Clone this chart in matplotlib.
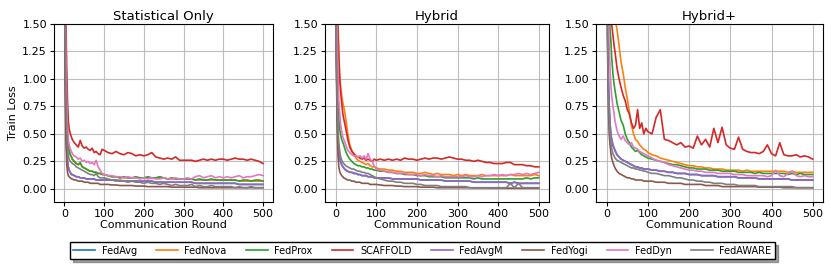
import matplotlib
matplotlib.use("Agg")
import matplotlib.pyplot as plt

rounds = [0, 2, 4, 6, 8, 10, 12, 15, 18, 20, 25, 30, 35, 40, 45, 50, 55, 60, 65, 70,
          75, 80, 85, 90, 95, 100] + list(range(110, 501, 10))

methods = ["FedAvg", "FedNova", "FedProx", "SCAFFOLD", "FedAvgM", "FedYogi", "FedDyn", "FedAWARE"]
colors = ["#1f77b4", "#ff7f0e", "#2ca02c", "#d62728", "#9467bd", "#8c564b", "#e377c2", "#7f7f7f"]
titles = ["Statistical Only", "Hybrid", "Hybrid+"]

# ---------------- Statistical Only ----------------
s_scaffold = [2.4, 1.9, 1.5, 1.1, 0.8, 0.62, 0.55, 0.5, 0.47, 0.45, 0.42, 0.4, 0.38, 0.44, 0.39, 0.37, 0.38, 0.36, 0.35, 0.37, 0.33, 0.34, 0.32, 0.31, 0.36, 0.35,
              0.33, 0.32, 0.34, 0.32, 0.31, 0.33, 0.32, 0.30, 0.31, 0.30,
              0.31, 0.33, 0.29, 0.28, 0.27, 0.28, 0.27, 0.29, 0.26, 0.26,
              0.26, 0.26, 0.25, 0.26, 0.27, 0.26, 0.27, 0.26, 0.27, 0.27,
              0.26, 0.27, 0.28, 0.27, 0.27, 0.26, 0.27, 0.26, 0.25, 0.23]
s_feddyn = [2.4, 1.7, 1.2, 0.8, 0.55, 0.45, 0.4, 0.36, 0.34, 0.32, 0.3, 0.29, 0.27, 0.28, 0.25, 0.26, 0.24, 0.25, 0.23, 0.24, 0.22, 0.26, 0.2, 0.17, 0.14, 0.13,
            0.12, 0.12, 0.11, 0.11, 0.10, 0.11, 0.10, 0.10, 0.09, 0.10,
            0.09, 0.10, 0.09, 0.09, 0.10, 0.09, 0.09, 0.10, 0.09, 0.09,
            0.10, 0.09, 0.11, 0.12, 0.10, 0.11, 0.12, 0.10, 0.11, 0.10,
            0.11, 0.10, 0.11, 0.12, 0.10, 0.11, 0.11, 0.12, 0.13, 0.12]
s_fedprox = [2.4, 1.6, 1.1, 0.7, 0.5, 0.4, 0.35, 0.31, 0.29, 0.27, 0.25, 0.23, 0.22, 0.24, 0.2, 0.19, 0.18, 0.17, 0.16, 0.16, 0.15, 0.15, 0.14, 0.14, 0.13, 0.13,
             0.12, 0.11, 0.11, 0.10, 0.11, 0.10, 0.10, 0.11, 0.10, 0.10,
             0.11, 0.10, 0.10, 0.11, 0.10, 0.09, 0.10, 0.09, 0.09, 0.09,
             0.09, 0.09, 0.08, 0.09, 0.08, 0.08, 0.09, 0.08, 0.08, 0.08,
             0.08, 0.08, 0.08, 0.07, 0.08, 0.08, 0.07, 0.08, 0.08, 0.07]
s_fednova = [2.4, 1.6, 1.1, 0.7, 0.5, 0.4, 0.35, 0.31, 0.29, 0.27, 0.25, 0.23, 0.22, 0.23, 0.2, 0.19, 0.18, 0.17, 0.16, 0.16, 0.15, 0.15, 0.14, 0.14, 0.13, 0.13,
             0.12, 0.11, 0.11, 0.10, 0.10, 0.10, 0.10, 0.10, 0.10, 0.10,
             0.10, 0.10, 0.10, 0.10, 0.10, 0.09, 0.09, 0.09, 0.09, 0.09,
             0.09, 0.09, 0.08, 0.08, 0.08, 0.08, 0.08, 0.08, 0.08, 0.08,
             0.08, 0.08, 0.08, 0.07, 0.07, 0.07, 0.07, 0.07, 0.07, 0.07]
s_fedavgm = [2.4, 1.2, 0.6, 0.35, 0.25, 0.2, 0.17, 0.15, 0.13, 0.13, 0.12, 0.11, 0.11, 0.10, 0.10, 0.10, 0.09, 0.09, 0.09, 0.09, 0.09, 0.08, 0.08, 0.08, 0.08, 0.08,
             0.08, 0.08, 0.08, 0.07, 0.07, 0.07, 0.07, 0.07, 0.07, 0.07,
             0.07, 0.07, 0.06, 0.06, 0.06, 0.06, 0.06, 0.06, 0.06, 0.06,
             0.06, 0.06, 0.05, 0.05, 0.05, 0.05, 0.05, 0.05, 0.05, 0.05,
             0.05, 0.05, 0.05, 0.04, 0.04, 0.04, 0.04, 0.04, 0.04, 0.04]
s_fedavg = [2.4, 1.2, 0.6, 0.35, 0.25, 0.2, 0.17, 0.15, 0.13, 0.13, 0.12, 0.11, 0.11, 0.10, 0.10, 0.10, 0.09, 0.09, 0.09, 0.09, 0.09, 0.08, 0.08, 0.08, 0.08, 0.08,
            0.08, 0.08, 0.08, 0.07, 0.07, 0.07, 0.07, 0.07, 0.07, 0.07,
            0.07, 0.07, 0.06, 0.06, 0.06, 0.06, 0.06, 0.06, 0.06, 0.06,
            0.06, 0.06, 0.05, 0.05, 0.05, 0.05, 0.05, 0.05, 0.05, 0.05,
            0.05, 0.05, 0.05, 0.04, 0.04, 0.04, 0.04, 0.04, 0.04, 0.04]
s_fedyogi = [2.4, 1.0, 0.45, 0.22, 0.15, 0.12, 0.11, 0.1, 0.09, 0.09, 0.08, 0.08, 0.07, 0.07, 0.07, 0.06, 0.06, 0.06, 0.05, 0.05, 0.05, 0.05, 0.05, 0.04, 0.04, 0.04,
             0.04, 0.035, 0.035, 0.03, 0.03, 0.03, 0.03, 0.025, 0.025, 0.025,
             0.02, 0.02, 0.02, 0.02, 0.02, 0.02, 0.015, 0.015, 0.015, 0.015,
             0.015, 0.015, 0.015, 0.01, 0.01, 0.01, 0.01, 0.01, 0.01, 0.01,
             0.01, 0.01, 0.01, 0.01, 0.01, 0.01, 0.01, 0.01, 0.01, 0.01]
s_fedaware = [2.4, 1.5, 0.9, 0.55, 0.38, 0.3, 0.27, 0.25, 0.24, 0.23, 0.22, 0.2, 0.19, 0.18, 0.17, 0.16, 0.15, 0.14, 0.13, 0.13, 0.12, 0.14, 0.11, 0.1, 0.1, 0.1,
              0.09, 0.08, 0.07, 0.08, 0.07, 0.06, 0.07, 0.06, 0.06, 0.05,
              0.06, 0.05, 0.05, 0.04, 0.05, 0.04, 0.03, 0.04, 0.03, 0.03,
              0.03, 0.04, 0.02, 0.03, 0.02, 0.02, 0.03, 0.02, 0.02, 0.02,
              0.02, 0.02, 0.01, 0.02, 0.01, 0.01, 0.02, 0.01, 0.01, 0.01]

# ---------------- Hybrid ----------------
h_scaffold = [2.4, 2.0, 1.7, 1.4, 1.2, 1.0, 0.9, 0.78, 0.68, 0.64, 0.55, 0.45, 0.38, 0.34, 0.32, 0.3, 0.29, 0.28, 0.27, 0.28, 0.26, 0.27, 0.26, 0.25, 0.27, 0.26,
              0.27, 0.26, 0.27, 0.26, 0.27, 0.26, 0.28, 0.27, 0.27, 0.26,
              0.27, 0.28, 0.27, 0.28, 0.28, 0.27, 0.28, 0.29, 0.28, 0.27,
              0.27, 0.26, 0.26, 0.25, 0.26, 0.25, 0.24, 0.24, 0.23, 0.23,
              0.23, 0.24, 0.24, 0.22, 0.22, 0.22, 0.21, 0.21, 0.2, 0.2]
h_fednova = [2.4, 2.1, 1.8, 1.5, 1.25, 1.05, 0.95, 0.85, 0.78, 0.75, 0.64, 0.5, 0.4, 0.35, 0.31, 0.28, 0.26, 0.25, 0.24, 0.23, 0.22, 0.23, 0.21, 0.2, 0.2, 0.19,
             0.18, 0.18, 0.17, 0.17, 0.16, 0.16, 0.15, 0.15, 0.15, 0.14,
             0.14, 0.15, 0.14, 0.13, 0.14, 0.13, 0.13, 0.13, 0.12, 0.13,
             0.12, 0.13, 0.12, 0.12, 0.12, 0.13, 0.12, 0.12, 0.12, 0.12,
             0.12, 0.12, 0.13, 0.12, 0.12, 0.12, 0.12, 0.12, 0.13, 0.12]
h_feddyn = [2.4, 1.8, 1.4, 1.05, 0.8, 0.7, 0.6, 0.52, 0.47, 0.45, 0.4, 0.35, 0.33, 0.31, 0.3, 0.3, 0.29, 0.3, 0.28, 0.3, 0.27, 0.32, 0.27, 0.25, 0.21, 0.18,
            0.17, 0.16, 0.15, 0.15, 0.14, 0.14, 0.14, 0.13, 0.13, 0.13,
            0.12, 0.13, 0.12, 0.12, 0.11, 0.12, 0.11, 0.11, 0.11, 0.11,
            0.11, 0.12, 0.11, 0.11, 0.12, 0.11, 0.12, 0.12, 0.13, 0.12,
            0.13, 0.12, 0.13, 0.13, 0.14, 0.13, 0.14, 0.13, 0.14, 0.15]
h_fedprox = [2.4, 1.7, 1.2, 0.85, 0.65, 0.55, 0.5, 0.45, 0.42, 0.4, 0.34, 0.3, 0.27, 0.25, 0.23, 0.22, 0.21, 0.21, 0.2, 0.2, 0.19, 0.19, 0.18, 0.18, 0.17, 0.17,
             0.16, 0.16, 0.15, 0.15, 0.14, 0.14, 0.13, 0.13, 0.13, 0.12,
             0.12, 0.12, 0.11, 0.11, 0.11, 0.11, 0.10, 0.10, 0.10, 0.10,
             0.10, 0.10, 0.10, 0.09, 0.10, 0.09, 0.09, 0.09, 0.09, 0.09,
             0.09, 0.09, 0.09, 0.09, 0.09, 0.09, 0.10, 0.09, 0.10, 0.10]
h_fedavgm = [2.4, 1.2, 0.7, 0.45, 0.33, 0.28, 0.25, 0.22, 0.2, 0.19, 0.17, 0.16, 0.15, 0.15, 0.14, 0.14, 0.13, 0.13, 0.12, 0.12, 0.12, 0.11, 0.11, 0.11, 0.1, 0.1,
             0.1, 0.1, 0.1, 0.09, 0.09, 0.09, 0.09, 0.09, 0.09, 0.09,
             0.08, 0.08, 0.08, 0.08, 0.08, 0.08, 0.07, 0.07, 0.07, 0.07,
             0.07, 0.07, 0.07, 0.06, 0.06, 0.06, 0.06, 0.06, 0.06, 0.06,
             0.06, 0.06, 0.05, 0.06, 0.05, 0.05, 0.05, 0.05, 0.05, 0.05]
h_fedavg = [2.4, 1.2, 0.7, 0.45, 0.33, 0.28, 0.25, 0.22, 0.2, 0.19, 0.17, 0.16, 0.15, 0.15, 0.14, 0.14, 0.13, 0.13, 0.12, 0.12, 0.12, 0.11, 0.11, 0.11, 0.1, 0.1,
            0.1, 0.1, 0.1, 0.09, 0.09, 0.09, 0.09, 0.09, 0.09, 0.09,
            0.08, 0.08, 0.08, 0.08, 0.08, 0.08, 0.07, 0.07, 0.07, 0.07,
            0.07, 0.07, 0.07, 0.06, 0.06, 0.06, 0.06, 0.06, 0.06, 0.06,
            0.06, 0.06, 0.05, 0.06, 0.05, 0.05, 0.05, 0.05, 0.05, 0.05]
h_fedaware = [2.4, 1.4, 0.85, 0.55, 0.42, 0.35, 0.3, 0.26, 0.24, 0.23, 0.21, 0.2, 0.19, 0.18, 0.18, 0.17, 0.16, 0.16, 0.15, 0.15, 0.14, 0.14, 0.13, 0.12, 0.11, 0.1,
              0.09, 0.08, 0.07, 0.07, 0.06, 0.06, 0.05, 0.05, 0.05, 0.04,
              0.04, 0.03, 0.03, 0.03, 0.03, 0.02, 0.02, 0.02, 0.02, 0.02,
              0.02, 0.02, 0.01, 0.01, 0.01, 0.01, 0.01, 0.01, 0.01, 0.01,
              0.01, 0.01, 0.05, 0.01, 0.05, 0.01, 0.01, 0.01, 0.01, 0.01]
h_fedyogi = [2.4, 1.1, 0.55, 0.3, 0.2, 0.16, 0.14, 0.12, 0.11, 0.1, 0.09, 0.08, 0.08, 0.07, 0.07, 0.06, 0.06, 0.06, 0.05, 0.05, 0.05, 0.05, 0.04, 0.04, 0.04, 0.04,
             0.035, 0.03, 0.03, 0.03, 0.025, 0.025, 0.02, 0.02, 0.02, 0.02,
             0.015, 0.015, 0.015, 0.015, 0.01, 0.01, 0.01, 0.01, 0.01, 0.01,
             0.01, 0.01, 0.01, 0.008, 0.008, 0.008, 0.008, 0.007, 0.007, 0.007,
             0.007, 0.006, 0.006, 0.006, 0.006, 0.005, 0.005, 0.005, 0.005, 0.005]

# ---------------- Hybrid+ ----------------
p_fednova = [2.4, 2.3, 2.2, 2.1, 2.0, 1.9, 1.8, 1.7, 1.6, 1.55, 1.45, 1.3, 1.15, 1.05, 0.92, 0.82, 0.7, 0.58, 0.5, 0.45, 0.43, 0.4, 0.38, 0.36, 0.35, 0.33,
             0.31, 0.3, 0.28, 0.27, 0.26, 0.25, 0.24, 0.23, 0.22, 0.21,
             0.21, 0.2, 0.2, 0.19, 0.19, 0.18, 0.18, 0.18, 0.17, 0.17,
             0.17, 0.17, 0.16, 0.17, 0.16, 0.16, 0.16, 0.16, 0.16, 0.16,
             0.16, 0.16, 0.16, 0.15, 0.16, 0.15, 0.15, 0.15, 0.15, 0.15]
p_scaffold = [2.4, 2.2, 2.0, 1.85, 1.7, 1.6, 1.5, 1.4, 1.3, 1.25, 1.1, 1.0, 0.92, 0.85, 0.8, 0.72, 0.68, 0.6, 0.55, 0.58, 0.72, 0.55, 0.6, 0.5, 0.55, 0.52,
              0.5, 0.65, 0.72, 0.45, 0.44, 0.42, 0.4, 0.42, 0.38, 0.39,
              0.37, 0.48, 0.4, 0.45, 0.38, 0.55, 0.42, 0.56, 0.4, 0.37,
              0.36, 0.47, 0.36, 0.34, 0.33, 0.33, 0.32, 0.34, 0.4, 0.32,
              0.3, 0.42, 0.31, 0.3, 0.3, 0.31, 0.29, 0.3, 0.29, 0.27]
p_fedprox = [2.4, 2.1, 1.85, 1.6, 1.45, 1.35, 1.2, 1.05, 0.95, 0.9, 0.78, 0.7, 0.62, 0.58, 0.5, 0.45, 0.42, 0.38, 0.36, 0.34, 0.35, 0.33, 0.31, 0.3, 0.29, 0.28,
             0.27, 0.26, 0.25, 0.24, 0.23, 0.22, 0.22, 0.21, 0.2, 0.19,
             0.19, 0.18, 0.18, 0.18, 0.17, 0.17, 0.17, 0.16, 0.16, 0.16,
             0.16, 0.15, 0.15, 0.15, 0.15, 0.14, 0.15, 0.14, 0.14, 0.14,
             0.14, 0.14, 0.14, 0.13, 0.14, 0.13, 0.14, 0.13, 0.13, 0.13]
p_feddyn = [2.4, 1.9, 1.6, 1.3, 1.1, 0.95, 0.85, 0.75, 0.68, 0.62, 0.53, 0.48, 0.45, 0.48, 0.44, 0.42, 0.4, 0.42, 0.38, 0.37, 0.36, 0.34, 0.33, 0.32, 0.31, 0.3,
            0.28, 0.26, 0.25, 0.24, 0.22, 0.21, 0.2, 0.19, 0.18, 0.17,
            0.17, 0.16, 0.16, 0.15, 0.15, 0.15, 0.14, 0.14, 0.14, 0.14,
            0.13, 0.13, 0.13, 0.12, 0.12, 0.12, 0.12, 0.12, 0.11, 0.12,
            0.17, 0.12, 0.11, 0.14, 0.16, 0.12, 0.11, 0.12, 0.11, 0.11]
p_fedavgm = [2.4, 1.5, 1.0, 0.75, 0.6, 0.5, 0.45, 0.4, 0.37, 0.35, 0.31, 0.29, 0.27, 0.26, 0.25, 0.24, 0.23, 0.22, 0.21, 0.2, 0.2, 0.19, 0.19, 0.18, 0.18, 0.18,
             0.17, 0.17, 0.16, 0.16, 0.15, 0.15, 0.14, 0.14, 0.14, 0.13,
             0.13, 0.13, 0.12, 0.12, 0.12, 0.12, 0.11, 0.11, 0.11, 0.11,
             0.11, 0.10, 0.10, 0.10, 0.10, 0.10, 0.09, 0.09, 0.09, 0.09,
             0.09, 0.09, 0.09, 0.09, 0.08, 0.08, 0.08, 0.08, 0.08, 0.08]
p_fedavg = [2.4, 1.5, 1.0, 0.75, 0.6, 0.5, 0.45, 0.4, 0.37, 0.35, 0.31, 0.29, 0.27, 0.26, 0.25, 0.24, 0.23, 0.22, 0.21, 0.2, 0.2, 0.19, 0.19, 0.18, 0.18, 0.18,
            0.17, 0.17, 0.16, 0.16, 0.15, 0.15, 0.14, 0.14, 0.14, 0.13,
            0.13, 0.13, 0.12, 0.12, 0.12, 0.12, 0.11, 0.11, 0.11, 0.11,
            0.11, 0.10, 0.10, 0.10, 0.10, 0.10, 0.09, 0.09, 0.09, 0.09,
            0.09, 0.09, 0.09, 0.09, 0.08, 0.08, 0.08, 0.08, 0.08, 0.08]
p_fedaware = [2.4, 1.4, 0.9, 0.65, 0.5, 0.42, 0.37, 0.32, 0.3, 0.28, 0.26, 0.25, 0.24, 0.23, 0.22, 0.21, 0.2, 0.19, 0.19, 0.18, 0.18, 0.17, 0.17, 0.16, 0.16, 0.15,
              0.14, 0.14, 0.13, 0.12, 0.12, 0.11, 0.1, 0.1, 0.09, 0.08,
              0.08, 0.07, 0.07, 0.06, 0.06, 0.05, 0.05, 0.05, 0.04, 0.04,
              0.04, 0.03, 0.03, 0.03, 0.03, 0.03, 0.02, 0.02, 0.02, 0.02,
              0.02, 0.02, 0.02, 0.02, 0.02, 0.01, 0.01, 0.01, 0.01, 0.01]
p_fedyogi = [2.4, 1.3, 0.75, 0.5, 0.4, 0.33, 0.28, 0.24, 0.21, 0.19, 0.16, 0.14, 0.13, 0.12, 0.11, 0.1, 0.1, 0.09, 0.09, 0.08, 0.08, 0.08, 0.08, 0.07, 0.07, 0.07,
             0.07, 0.06, 0.06, 0.06, 0.05, 0.05, 0.05, 0.05, 0.04, 0.04,
             0.04, 0.04, 0.04, 0.03, 0.03, 0.03, 0.03, 0.02, 0.02, 0.02,
             0.02, 0.02, 0.02, 0.02, 0.02, 0.02, 0.015, 0.015, 0.015, 0.015,
             0.015, 0.015, 0.01, 0.01, 0.01, 0.01, 0.01, 0.01, 0.01, 0.01]

panels = [
    [s_fedavg, s_fednova, s_fedprox, s_scaffold, s_fedavgm, s_fedyogi, s_feddyn, s_fedaware],
    [h_fedavg, h_fednova, h_fedprox, h_scaffold, h_fedavgm, h_fedyogi, h_feddyn, h_fedaware],
    [p_fedavg, p_fednova, p_fedprox, p_scaffold, p_fedavgm, p_fedyogi, p_feddyn, p_fedaware],
]

fig = plt.figure(figsize=(8.31, 2.66), dpi=100)
W, H = 831.0, 266.0
boxes = [(54, 219), (325, 224), (596, 227)]
axes = []
for i, (l, w) in enumerate(boxes):
    ax = fig.add_axes([l / W, 64 / H, w / W, 178 / H])
    axes.append(ax)
    for name, col, vals in zip(methods, colors, panels[i]):
        ax.plot(rounds, vals, color=col, lw=1.2, label=name)
    ax.set_ylim(-0.12, 1.5)
    ax.set_xlim(-26, 525)
    ax.set_xticks([0, 100, 200, 300, 400, 500])
    ax.set_yticks([0.0, 0.25, 0.5, 0.75, 1.0, 1.25, 1.5])
    ax.grid(True, color="#b0b0b0", lw=0.8, alpha=0.8)
    ax.set_title(titles[i], fontsize=9.5, pad=3)
    ax.set_xlabel("Communication Round", fontsize=8, labelpad=1)
    ax.tick_params(labelsize=8, length=3, pad=2)
axes[0].set_ylabel("Train Loss", fontsize=8, labelpad=3)

handles, labels = axes[0].get_legend_handles_labels()
fig.legend(handles, labels, loc="lower center", bbox_to_anchor=(0.5 + 7 / W, 7 / H), ncol=8,
           fontsize=7, shadow=True, fancybox=False, frameon=True, columnspacing=2.0,
           handlelength=2.2, handletextpad=0.7, borderpad=0.35, borderaxespad=0,
           edgecolor="black", framealpha=1)

fig.savefig("out.png", dpi=100)
